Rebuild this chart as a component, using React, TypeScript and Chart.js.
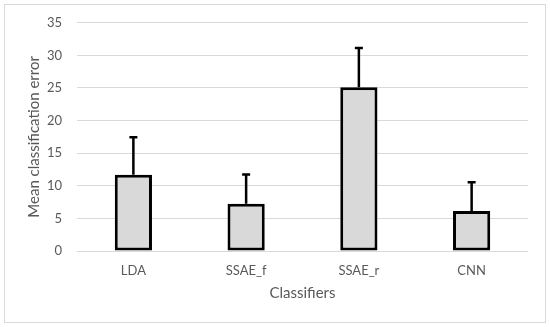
import React, { useEffect, useRef } from "react";
import { Chart, registerables } from "chart.js";

Chart.register(...registerables);

const categories = ["LDA", "SSAE_f", "SSAE_r", "CNN"];
const meanErrors = [11.7, 7.25, 25.1, 6.15];
const upperDeviation = [5.75, 4.5, 6.05, 4.4];
const yTicks = [0, 5, 10, 15, 20, 25, 30, 35];

const FONT = "Lato, 'Open Sans', sans-serif";
const GRAY = "#595959";

const errorBarPlugin = {
  id: "errorBars",
  afterDatasetsDraw(chart: any) {
    const ctx = chart.ctx;
    const meta = chart.getDatasetMeta(0);
    const yScale = chart.scales.y;
    ctx.save();
    ctx.strokeStyle = "#000000";
    ctx.lineWidth = 2.5;
    meta.data.forEach((bar: any, i: number) => {
      const x = bar.x;
      const yTop = yScale.getPixelForValue(meanErrors[i] + upperDeviation[i]);
      const yBase = yScale.getPixelForValue(meanErrors[i]);
      ctx.beginPath();
      ctx.moveTo(x, yBase);
      ctx.lineTo(x, yTop);
      ctx.moveTo(x - 4, yTop);
      ctx.lineTo(x + 4, yTop);
      ctx.stroke();
    });
    ctx.restore();
  },
};

export default function App() {
  const ref = useRef<HTMLCanvasElement | null>(null);

  useEffect(() => {
    if (!ref.current) return;
    const chart = new Chart(ref.current, {
      type: "bar",
      data: {
        labels: categories,
        datasets: [
          {
            data: meanErrors,
            backgroundColor: "#d9d9d9",
            borderColor: "#000000",
            borderWidth: 3,
            borderSkipped: false,
            categoryPercentage: 1,
            barPercentage: 0.33,
          },
        ],
      },
      options: {
        animation: false,
        responsive: false,
        maintainAspectRatio: false,
        layout: { padding: { left: 0, right: 22, top: 22, bottom: 0 } },
        plugins: { legend: { display: false }, tooltip: { enabled: false } },
        scales: {
          x: {
            grid: { display: false, drawTicks: false },
            border: { display: false },
            ticks: { color: GRAY, font: { family: FONT, size: 13 }, padding: 12 },
            title: {
              display: true,
              text: "Classifiers",
              color: GRAY,
              font: { family: FONT, size: 15 },
              padding: { top: 0, bottom: 25 },
            },
            afterFit: (s: any) => {
              s.height = 76;
            },
          },
          y: {
            min: 0,
            max: 35,
            afterBuildTicks: (s: any) => {
              s.ticks = yTicks.map((v) => ({ value: v }));
            },
            grid: { color: "#d9d9d9", lineWidth: 1, drawTicks: false },
            border: { display: false },
            ticks: { color: GRAY, font: { family: FONT, size: 13 }, padding: 15 },
            title: {
              display: true,
              text: "Mean classification error",
              color: GRAY,
              font: { family: FONT, size: 15 },
              padding: { top: 25, bottom: 0 },
            },
            afterFit: (s: any) => {
              s.width = 77;
            },
          },
        },
      },
      plugins: [errorBarPlugin],
    });
    return () => chart.destroy();
  }, []);

  return (
    <div style={{ position: "fixed", left: 0, top: 0, width: 550, height: 327, background: "#ffffff" }}>
      <div
        style={{
          position: "absolute",
          left: 4,
          top: 4,
          width: 540,
          height: 317,
          border: "1px solid #d9d9d9",
        }}
      />
      <canvas ref={ref} width={550} height={327} style={{ position: "absolute", left: 0, top: 0 }} />
    </div>
  );
}
